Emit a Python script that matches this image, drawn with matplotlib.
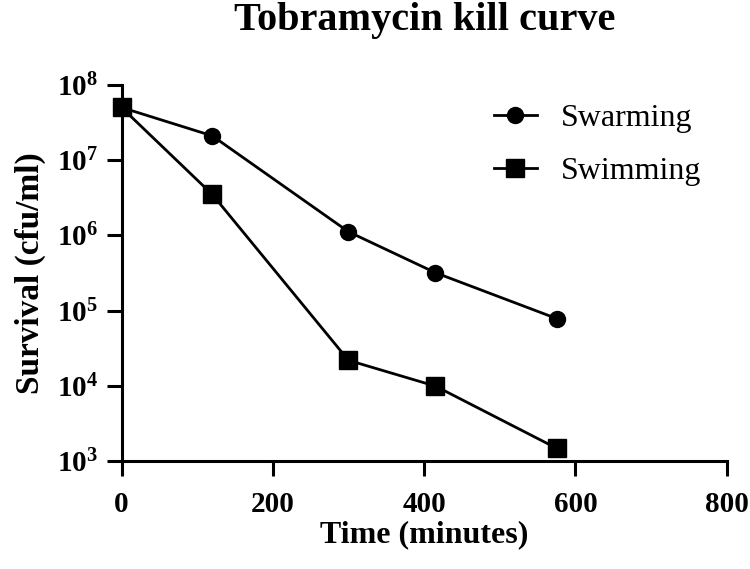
import math
import matplotlib
matplotlib.use("Agg")
import matplotlib.pyplot as plt
from matplotlib.ticker import FixedLocator, FuncFormatter, NullLocator

plt.rcParams["font.family"] = ["Liberation Serif", "DejaVu Serif"]
plt.rcParams["mathtext.fontset"] = "custom"
plt.rcParams["mathtext.rm"] = "Liberation Serif:bold"
plt.rcParams["mathtext.bf"] = "Liberation Serif:bold"
plt.rcParams["mathtext.it"] = "Liberation Serif:bold"

# datos
tiempo = [0, 120, 300, 415, 575]
swarming = [5.0e7, 2.1e7, 1.12e6, 3.2e5, 7.9e4]
swimming = [5.0e7, 3.5e6, 2.2e4, 1.0e4, 1.5e3]
swimming_err = [0, 0, 0, 1.5e3, 0]

x_ticks = [0, 200, 400, 600, 800]
y_ticks = [1e3, 1e4, 1e5, 1e6, 1e7, 1e8]

fig = plt.figure(figsize=(7.5, 5.69), dpi=100)
ax = fig.add_axes([0.162, 0.189, 0.807, 0.662])

ax.plot(tiempo, swarming, color="black", marker="o", markersize=11.5,
        linewidth=2, label="Swarming", clip_on=False, zorder=3)
ax.errorbar(tiempo, swimming, yerr=swimming_err, color="black", marker="s",
            markersize=12.5, linewidth=2, capsize=0, elinewidth=2,
            label="Swimming", clip_on=False, zorder=3)

ax.set_yscale("log")
ax.set_xlim(0, 800)
ax.set_ylim(1e3, 1e8)
ax.xaxis.set_major_locator(FixedLocator(x_ticks))
ax.yaxis.set_major_locator(FixedLocator(y_ticks))
ax.yaxis.set_minor_locator(NullLocator())
ax.yaxis.set_major_formatter(FuncFormatter(lambda v, p: r"$10^{%d}$" % round(math.log10(v))))

for s in ["top", "right"]:
    ax.spines[s].set_visible(False)
for s in ["left", "bottom"]:
    ax.spines[s].set_linewidth(2.2)

ax.tick_params(axis="both", which="major", length=11, width=2.2, direction="out",
               labelsize=21)
ax.tick_params(axis="x", pad=10)
ax.tick_params(axis="y", pad=6)
for lbl in ax.get_xticklabels():
    lbl.set_fontweight("bold")

ax.set_xlabel("Time (minutes)", fontsize=23, fontweight="bold", labelpad=2)
ax.set_ylabel("Survival (cfu/ml)", fontsize=24, fontweight="bold", labelpad=8)
fig.text(0.566, 0.996, "Tobramycin kill curve", ha="center", va="top",
         fontsize=29, fontweight="bold")

handles, labels = ax.get_legend_handles_labels()
handles = [h.lines[0] if hasattr(h, "lines") else h for h in handles]
ax.legend(handles, labels, loc="upper left", bbox_to_anchor=(0.615, 0.95),
          frameon=False, fontsize=23, handlelength=1.35, handletextpad=0.75,
          labelspacing=0.75, borderpad=0, borderaxespad=0, markerscale=1.0)

fig.savefig("out.png", dpi=100)
